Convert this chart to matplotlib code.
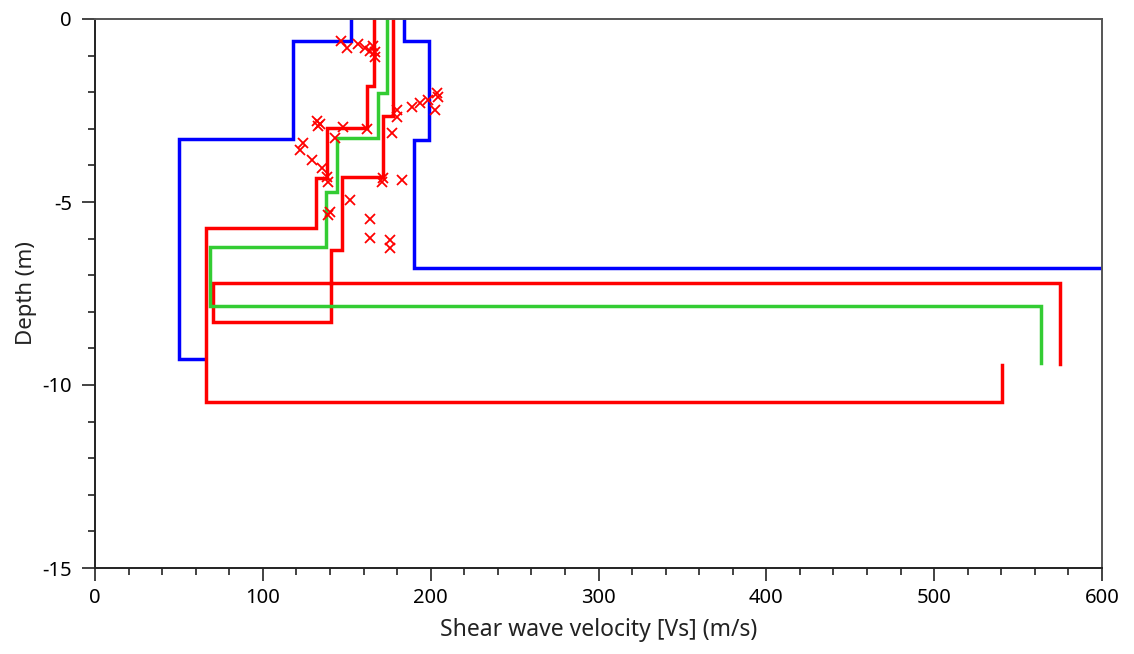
import matplotlib
matplotlib.use('Agg')
import matplotlib.pyplot as plt
from matplotlib.ticker import MultipleLocator

# ---------- DATA ----------
# velocity bounds (blue)
vs_min = [152.6, 152.6, 118.2, 118.2, 50.2, 50.2, 65.8]
z_min = [0, -0.59, -0.59, -3.28, -3.28, -9.29, -9.29]
vs_max = [184.0, 184.0, 199.2, 199.2, 190.0, 190.0, 620.0]
z_max = [0, -0.59, -0.59, -3.30, -3.30, -6.79, -6.79]

# profiles (red, green)
vs_red1 = [166.5, 166.5, 162.0, 162.0, 138.2, 138.2, 131.7, 131.7, 66.0, 66.0, 540.3, 540.3]
z_red1 = [0, -1.83, -1.83, -2.97, -2.97, -4.34, -4.34, -5.72, -5.72, -10.47, -10.47, -9.45]
vs_red2 = [177.4, 177.4, 171.8, 171.8, 147.0, 147.0, 140.5, 140.5, 70.5, 70.5, 575.1, 575.1]
z_red2 = [0, -2.64, -2.64, -4.31, -4.31, -6.31, -6.31, -8.29, -8.29, -7.21, -7.21, -9.42]
vs_green = [173.8, 173.8, 168.8, 168.8, 144.0, 144.0, 137.7, 137.7, 68.5, 68.5, 563.7, 563.7]
z_green = [0, -2.01, -2.01, -3.24, -3.24, -4.72, -4.72, -6.24, -6.24, -7.85, -7.85, -9.41]

# measured points
pts_vs = [146.6, 150.2, 156.7, 160.9, 163.9, 165.7, 166.9, 166.9,
          132.0, 134.0, 133.0, 123.8, 122.2, 129.1, 135.1, 138.4,
          148.0, 161.9, 143.0, 179.8, 179.8, 176.8, 188.7, 193.7,
          198.6, 203.6, 202.6, 204.4, 171.8, 182.8, 139.0, 152.0,
          140.0, 139.0, 163.9, 163.9, 175.8, 175.8, 170.9]
pts_z = [-0.60, -0.79, -0.68, -0.79, -0.87, -0.74, -0.90, -1.04,
         -2.80, -2.88, -2.92, -3.40, -3.58, -3.85, -4.08, -4.31,
         -2.94, -3.01, -3.26, -2.49, -2.67, -3.12, -2.40, -2.30,
         -2.21, -2.03, -2.49, -2.12, -4.35, -4.40, -4.45, -4.95,
         -5.27, -5.36, -5.47, -5.99, -6.04, -6.27, -4.45]

# ---------- PLOT ----------
plt.rcParams['font.family'] = ['Noto Sans', 'DejaVu Sans']
plt.rcParams['axes.unicode_minus'] = False

fig = plt.figure(figsize=(11.34, 6.54), dpi=100)
ax = fig.add_axes([95 / 1134, 1 - 568 / 654, 1007 / 1134, 549 / 654])

lw = 2.5
ax.plot(vs_min, z_min, color='#0000ff', lw=lw, solid_joinstyle='miter')
ax.plot(vs_max, z_max, color='#0000ff', lw=lw, solid_joinstyle='miter')
ax.plot(vs_red1, z_red1, color='#ff0000', lw=lw, solid_joinstyle='miter')
ax.plot(vs_red2, z_red2, color='#ff0000', lw=lw, solid_joinstyle='miter')
ax.plot(vs_green, z_green, color='#33cc33', lw=lw, solid_joinstyle='miter')
ax.plot(pts_vs, pts_z, 'x', color='#ff0000', ms=7, mew=1.3)

ax.set_xlim(0, 600)
ax.set_ylim(-15, 0)
ax.xaxis.set_major_locator(MultipleLocator(100))
ax.xaxis.set_minor_locator(MultipleLocator(20))
ax.yaxis.set_major_locator(MultipleLocator(5))
ax.yaxis.set_minor_locator(MultipleLocator(1))
ax.tick_params(which='major', length=9.5, width=1.2, labelsize=14.5, color='#222222')
ax.tick_params(which='minor', length=5, width=1.2, color='#222222')
ax.tick_params(axis='y', which='major', pad=7)
ax.tick_params(axis='x', which='major', pad=5)

for side in ['left', 'bottom']:
    ax.spines[side].set_color('#222222')
    ax.spines[side].set_linewidth(1.4)
for side in ['top', 'right']:
    ax.spines[side].set_color('#555555')
    ax.spines[side].set_linewidth(1.4)

ax.set_xlabel('Shear wave velocity [Vs] (m/s)', fontsize=16.5, color='#222222', labelpad=7)
ax.set_ylabel('Depth (m)', fontsize=16, color='#222222', labelpad=4)

fig.savefig('out.png', dpi=100)
